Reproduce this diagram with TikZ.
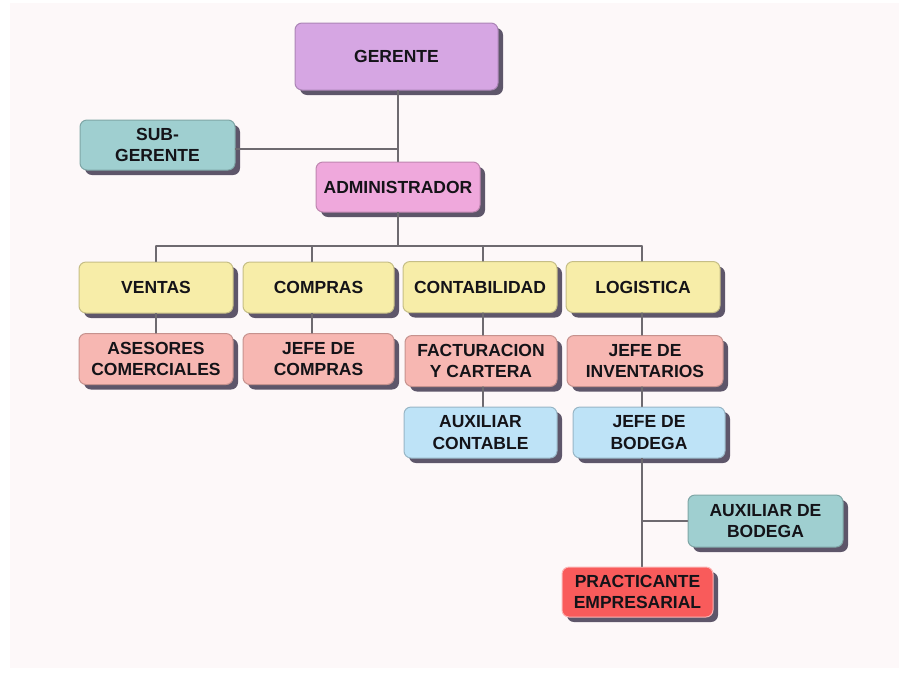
\documentclass[tikz,border=0pt]{standalone}
\usepackage{fontspec}
\setmainfont{Liberation Sans}
\usetikzlibrary{shadows}
\definecolor{fondo}{HTML}{FDF8F9}
\definecolor{linea}{HTML}{6E6A70}
\definecolor{sombra}{HTML}{5E566A}
\definecolor{texto}{HTML}{141318}
\definecolor{morado}{HTML}{D6A6E3}
\definecolor{rosa}{HTML}{EFA8DC}
\definecolor{verde}{HTML}{9FCFD0}
\definecolor{amarillo}{HTML}{F7EDA8}
\definecolor{salmon}{HTML}{F7B7B2}
\definecolor{celeste}{HTML}{BEE3F7}
\definecolor{rojo}{HTML}{F95B5B}
\begin{document}
\begin{tikzpicture}[x=1pt,y=-1pt,line join=round,line cap=round,
	caja/.style={draw=#1!80!black,fill=#1,rounded corners=7pt,line width=1pt,
		inner sep=0pt,align=center,text=texto,
		font=\fontsize{17.5}{21.5}\selectfont\bfseries,
		minimum width=154pt,minimum height=51pt,
		drop shadow={shadow xshift=5pt,shadow yshift=-5pt,fill=sombra,opacity=1}},
	conector/.style={draw=linea,line width=1.3pt}]
	% Fondo
	\useasboundingbox (0,0) rectangle (899,673);
	\fill[fondo] (10,3) rectangle (899,668);
	
	% Direccion
	\node[caja=morado,minimum width=203pt,minimum height=67pt] (gerente) at (396.5,56.5) {GERENTE};
	\node[caja=verde,minimum width=155pt,minimum height=50pt] (subgerente) at (157.5,145) {SUB-\\GERENTE};
	\node[caja=rosa,minimum width=164pt,minimum height=50pt] (admin) at (398,187) {ADMINISTRADOR};
	
	% Areas
	\node[caja=amarillo] (ventas) at (156,287.5) {VENTAS};
	\node[caja=amarillo,minimum width=151pt] (compras) at (318.5,287.5) {COMPRAS};
	\node[caja=amarillo] (contab) at (480,287) {CONTABILIDAD};
	\node[caja=amarillo] (logist) at (643,287) {LOGISTICA};
	
	% Cargos
	\node[caja=salmon] (asesores) at (156,359) {ASESORES\\COMERCIALES};
	\node[caja=salmon,minimum width=151pt] (jefecompras) at (318.5,359) {JEFE DE\\COMPRAS};
	\node[caja=salmon,minimum width=152pt] (factur) at (481,361) {FACTURACION\\Y CARTERA};
	\node[caja=salmon,minimum width=156pt] (jefeinv) at (645,361) {JEFE DE\\INVENTARIOS};
	\node[caja=celeste,minimum width=153pt] (auxcont) at (480.5,432.5) {AUXILIAR\\CONTABLE};
	\node[caja=celeste,minimum width=152pt] (jefebod) at (649,432.5) {JEFE DE\\BODEGA};
	\node[caja=verde,minimum width=155pt,minimum height=52pt] (auxbod) at (765.5,521) {AUXILIAR DE\\BODEGA};
	\node[caja=rojo,draw=rojo!45!white,minimum width=151pt,minimum height=50pt] (practic) at (637.5,592) {PRACTICANTE\\EMPRESARIAL};
	
	% Lineas
	\coordinate (c1) at (156,246);
	\coordinate (c2) at (312,246);
	\coordinate (c3) at (483,246);
	\coordinate (c4) at (642,246);
	\draw[conector] (admin.north |- gerente.south) -- (admin.north);
	\draw[conector] ([yshift=-4pt]subgerente.east) -- ([yshift=-4pt]subgerente.east -| admin.north);
	\draw[conector] (admin.south) -- (admin.south |- c1);
	\draw[conector] (c1) -- (c4);
	\foreach \c/\n in {c1/ventas,c2/compras,c3/contab,c4/logist}
		\draw[conector] (\c) -- (\c |- \n.north);
	\draw[conector] (c1 |- ventas.south) -- (c1 |- asesores.north);
	\draw[conector] (c2 |- compras.south) -- (c2 |- jefecompras.north);
	\draw[conector] (c3 |- contab.south) -- (c3 |- factur.north);
	\draw[conector] (c4 |- logist.south) -- (c4 |- jefeinv.north);
	\draw[conector] (c3 |- factur.south) -- (c3 |- auxcont.north);
	\draw[conector] (c4 |- jefeinv.south) -- (c4 |- jefebod.north);
	\draw[conector] (c4 |- jefebod.south) -- (c4 |- practic.north);
	\draw[conector] (c4 |- auxbod.west) -- (auxbod.west);
\end{tikzpicture}
\end{document}
